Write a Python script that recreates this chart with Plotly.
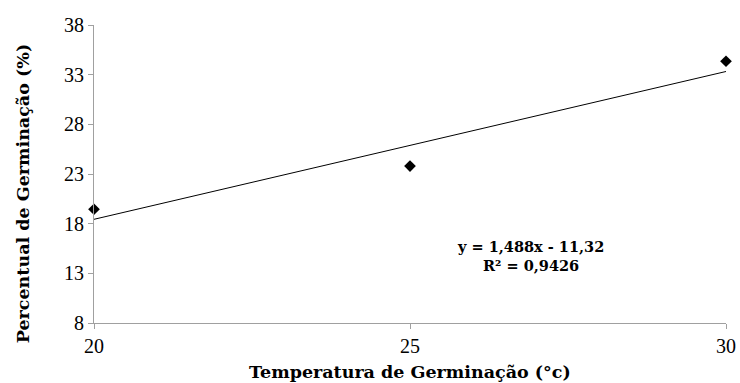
import plotly.graph_objects as go

temperatura = [20, 25, 30]
percentual = [19.45, 23.8, 34.35]
slope = 1.488
intercept = -11.32
x_ticks = [20, 25, 30]
y_ticks = [8, 13, 18, 23, 28, 33, 38]

trend_x = [20, 30]
trend_y = [slope * x + intercept for x in trend_x]

tick_fam = "Liberation Serif"
title_fam = "DejaVu Serif"

fig = go.Figure()
fig.add_trace(go.Scatter(x=trend_x, y=trend_y, mode="lines",
                         line=dict(color="black", width=1), showlegend=False))
fig.add_trace(go.Scatter(x=temperatura, y=percentual, mode="markers",
                         marker=dict(symbol="diamond", size=9, color="black"),
                         showlegend=False, cliponaxis=False))

fig.add_annotation(x=0.69, y=0.225, xref="paper", yref="paper",
                   xanchor="center", yanchor="middle",
                   text="<b>y = 1,488x - 11,32<br>R² = 0,9426</b>",
                   showarrow=False, align="center",
                   font=dict(family=title_fam, size=14.5, color="black"))

fig.add_annotation(x=0.5, y=-0.166, xref="paper", yref="paper",
                   xanchor="center", yanchor="middle",
                   text="<b>Temperatura de Germinação (°c)</b>", showarrow=False,
                   font=dict(family=title_fam, size=17.5, color="black"))
fig.add_annotation(x=-0.111, y=0.435, xref="paper", yref="paper", textangle=-90,
                   xanchor="center", yanchor="middle",
                   text="<b>Percentual de Germinação (%)</b>", showarrow=False,
                   font=dict(family=title_fam, size=17.5, color="black"))

fig.update_xaxes(range=[20, 30], tickvals=x_ticks, ticks="outside", ticklen=5,
                 tickcolor="#a0a0a0", showline=True, linecolor="#a0a0a0",
                 showgrid=False, zeroline=False, automargin=False,
                 tickfont=dict(family=tick_fam, size=20, color="black"))
fig.update_yaxes(range=[8, 38], tickvals=y_ticks, ticks="outside", ticklen=5,
                 tickcolor="#a0a0a0", showline=True, linecolor="#a0a0a0",
                 showgrid=False, zeroline=False, automargin=False,
                 tickfont=dict(family=tick_fam, size=20, color="black"))

fig.update_layout(width=740, height=383, paper_bgcolor="white", plot_bgcolor="white",
                  margin=dict(l=94, r=14, t=25, b=60))
fig.write_html("out.html", post_script="document.body.style.margin='0';",
               config={"displayModeBar": False})
